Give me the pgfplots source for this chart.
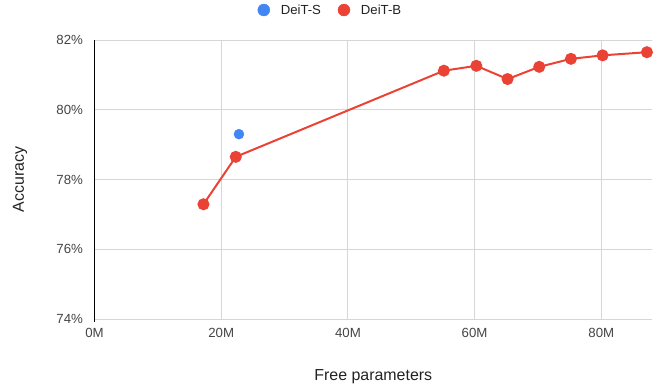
\documentclass[border=0pt]{standalone}
\usepackage{pgfplots}
\pgfplotsset{compat=1.18}
\usepackage{fontspec}
\setmainfont{Liberation Sans}
\definecolor{gblue}{HTML}{4285F4}
\definecolor{gred}{HTML}{EA4335}
\definecolor{gridgray}{HTML}{D6D6D6}
\definecolor{ticktext}{HTML}{444444}
\definecolor{titletext}{HTML}{222222}
\definecolor{baseline}{HTML}{333333}
\begin{document}
\begin{tikzpicture}[x=1bp,y=1bp]
\path[use as bounding box] (-94.5,-71) rectangle (567.5,319);
\begin{axis}[
  at={(0,0)}, anchor=south west,
  scale only axis, width=557.5bp, height=279bp,
  xmin=0, xmax=88, ymin=74, ymax=82,
  xtick={0,20,40,60,80},
  xticklabels={0M,20M,40M,60M,80M},
  ytick={74,76,78,80,82},
  yticklabels={74\%,76\%,78\%,80\%,82\%},
  major tick length=0pt,
  axis line style={draw=none},
  grid=major,
  major grid style={gridgray, line width=1bp},
  tick label style={font=\fontsize{13.3}{15}\selectfont, text=ticktext},
  xticklabel style={yshift=-6bp},
  yticklabel style={xshift=-8bp},
  label style={font=\fontsize{16}{18}\selectfont, text=titletext},
  xlabel={Free parameters},
  ylabel={Accuracy},
  xlabel style={at={(axis description cs:0.5,-0.205)}, anchor=center},
  ylabel style={at={(axis description cs:-0.1336,0.5)}, anchor=center, rotate=0},
  legend style={at={(axis description cs:0.4233,1.1075)}, anchor=center,
    draw=none, fill=none, legend columns=2,
    font=\fontsize{13.2}{15}\selectfont, text=titletext,
    /tikz/every odd column/.append style={column sep=9bp},
    /tikz/every even column/.append style={column sep=15bp}},
  legend cell align=left,
  clip=false,
]
\draw[baseline, line width=1.2bp] (axis cs:0,73.92) -- (axis cs:0,82);

\addlegendimage{only marks, mark=*, mark size=6bp, color=gblue, mark options={draw=none}}
\addlegendentry{DeiT-S}
\addlegendimage{only marks, mark=*, mark size=6bp, color=gred, mark options={draw=none}}
\addlegendentry{DeiT-B}

% DeiT-B
\addplot[forget plot, color=gred, line width=2bp, mark=*, mark size=5bp,
  mark options={draw=none}]
  coordinates {
    (17.2,77.29) (22.3,78.65) (55.15,81.12) (60.27,81.26) (65.2,80.88)
    (70.2,81.23) (75.2,81.46) (80.2,81.56) (87.2,81.65)
  };
% DeiT-S
\addplot[forget plot, only marks, color=gblue, mark=*, mark size=5bp,
  mark options={draw=none}]
  coordinates {(22.8,79.30)};
\end{axis}
\end{tikzpicture}
\end{document}
